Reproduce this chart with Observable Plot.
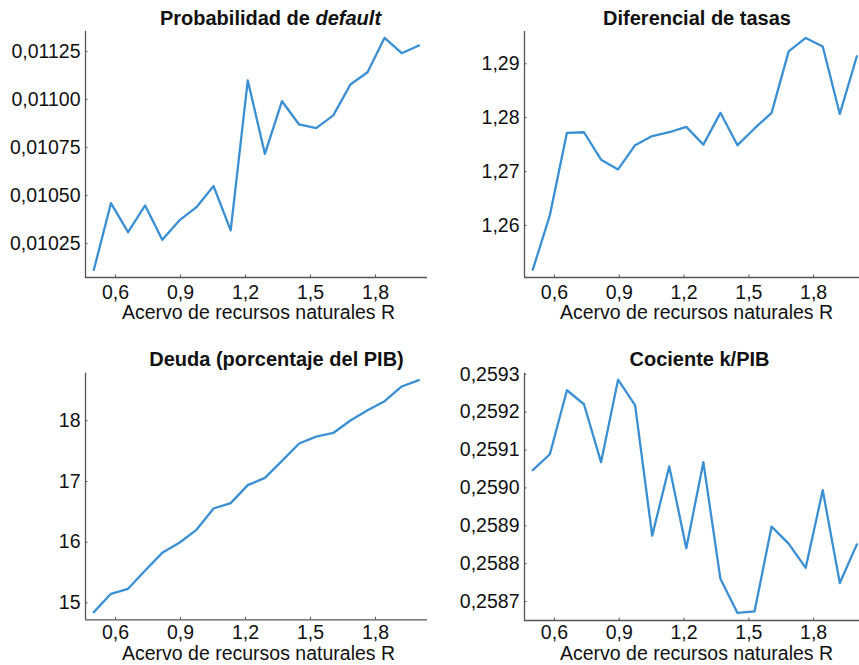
<!DOCTYPE html>
<html>
<head>
<meta charset="utf-8">
<script src="https://cdn.jsdelivr.net/npm/d3@7"></script>
<script src="https://cdn.jsdelivr.net/npm/@observablehq/plot@0.6"></script>
<style>
  html, body { margin: 0; padding: 0; background: #fff; }
  #fig {
    position: relative; width: 859px; height: 665px; overflow: hidden;
    font-family: "Liberation Sans", Arial, Helvetica, sans-serif;
  }
  #fig svg { position: absolute; overflow: visible; }
</style>
</head>
<body>
<div id="fig"></div>
<script>
// Natural resource stock R (shared x values for all four series)
const recursos = [0.5, 0.5789, 0.6579, 0.7368, 0.8158, 0.8947, 0.9737, 1.0526, 1.1316, 1.2105,
                  1.2895, 1.3684, 1.4474, 1.5263, 1.6053, 1.6842, 1.7632, 1.8421, 1.9211, 2.0];

// Series
const probDefault = [0.010113, 0.010460, 0.010309, 0.010448, 0.010269, 0.010370, 0.010439, 0.010549, 0.010318, 0.011099,
                     0.010717, 0.010991, 0.010870, 0.010851, 0.010917, 0.011078, 0.011142, 0.011321, 0.011241, 0.011281];
const diferencial = [1.2518, 1.2619, 1.2772, 1.2773, 1.2722, 1.2704, 1.2749, 1.2766, 1.2773, 1.2783,
                     1.2750, 1.2809, 1.2749, 1.2780, 1.2809, 1.2923, 1.2948, 1.2932, 1.2807, 1.2914];
const deuda = [14.846, 15.148, 15.231, 15.533, 15.824, 15.990, 16.203, 16.555, 16.643, 16.940,
               17.060, 17.340, 17.626, 17.740, 17.800, 18.005, 18.176, 18.324, 18.566, 18.670];
const cociente = [0.259047, 0.259089, 0.259258, 0.259221, 0.259068, 0.259286, 0.259218, 0.258874, 0.259057, 0.258841,
                  0.259068, 0.258760, 0.258670, 0.258674, 0.258898, 0.258853, 0.258789, 0.258994, 0.258749, 0.258851];

// Tick values
const xTicks = [0.6, 0.9, 1.2, 1.5, 1.8];
const probTicks = [0.01025, 0.01050, 0.01075, 0.01100, 0.01125];
const difTicks = [1.26, 1.27, 1.28, 1.29];
const deudaTicks = [15, 16, 17, 18];
const cocienteTicks = [0.2587, 0.2588, 0.2589, 0.2590, 0.2591, 0.2592, 0.2593];

// Labels
const xLabel = "Acervo de recursos naturales R";
const titles = [
  [["Probabilidad de ", "normal"], ["default", "italic"]],
  [["Diferencial de tasas", "normal"]],
  [["Deuda (porcentaje del PIB)", "normal"]],
  [["Cociente k/PIB", "normal"]]
];

// Spanish number formatting (decimal comma)
const es = d3.formatLocale({decimal: ",", thousands: ".", grouping: [3], currency: ["", " €"]});

const FONT = "19.5px";
const TITLE_FONT = "20px";
const LINE = "#3b8fd3";
const AXIS = "#555";
const xDomain = [0.4615, 2.04];

// Panel layout
const panels = [
  {values: probDefault, ticks: probTicks, fmt: ".5f", yDomain: [0.010073, 0.011354],
   left: 0, top: 0, width: 430, ml: 85, mt: 31, mb: 53, pad: 7.5,
   titleX: 270.5, titleY: 25, labelX: 258.5, labelY: 319.3},
  {values: diferencial, ticks: difTicks, fmt: ".2f", yDomain: [1.25035, 1.29599],
   left: 430, top: 0, width: 438, ml: 94, mt: 31, mb: 53, pad: 7.5,
   titleX: 697, titleY: 25, labelX: 696.5, labelY: 319},
  {values: deuda, ticks: deudaTicks, fmt: "d", yDomain: [14.72, 18.785],
   left: 0, top: 335, width: 430, ml: 85, mt: 37.7, mb: 45.7, pad: 5.3,
   titleX: 276.5, titleY: 365.7, labelX: 258.5, labelY: 660},
  {values: cociente, ticks: cocienteTicks, fmt: ".4f", yDomain: [0.25865, 0.259303],
   left: 430, top: 335, width: 438, ml: 94, mt: 37.7, mb: 45, pad: 4.6,
   titleX: 699.5, titleY: 365.7, labelX: 696.5, labelY: 660}
];

const fig = document.getElementById("fig");

panels.forEach((p, i) => {
  const data = recursos.map((r, j) => ({r, v: p.values[j]}));
  const chart = Plot.plot({
    width: p.width,
    height: 330,
    marginLeft: p.ml,
    marginRight: 3,
    marginTop: p.mt,
    marginBottom: p.mb,
    style: {fontSize: FONT, fontFamily: '"Liberation Sans", Arial, Helvetica, sans-serif', color: "#111", background: "transparent"},
    x: {domain: xDomain},
    y: {domain: p.yDomain},
    marks: [
      Plot.ruleX([xDomain[0]], {stroke: AXIS, strokeWidth: 1.3}),
      Plot.ruleY([p.yDomain[0]], {stroke: AXIS, strokeWidth: 1.3}),
      // small inward ticks
      Plot.axisX({ticks: xTicks, tickSize: -2.5, fill: "none", stroke: AXIS, label: null}),
      Plot.axisY({ticks: p.ticks, tickSize: -2.5, fill: "none", stroke: AXIS, label: null}),
      // tick labels
      Plot.axisX({ticks: xTicks, tickSize: 0, tickPadding: p.pad, tickFormat: es.format(".1f"), label: null}),
      Plot.axisY({ticks: p.ticks, tickSize: 0, tickPadding: 5, tickFormat: es.format(p.fmt), label: null}),
      Plot.line(data, {x: "r", y: "v", stroke: LINE, strokeWidth: 2.3, strokeLinejoin: "round"})
    ]
  });
  chart.style.left = p.left + "px";
  chart.style.top = p.top + "px";

  const svg = d3.select(chart);
  // panel title
  const t = svg.append("text")
    .attr("x", p.titleX - p.left)
    .attr("y", p.titleY - p.top)
    .attr("text-anchor", "middle")
    .attr("font-weight", "bold")
    .attr("font-size", TITLE_FONT)
    .attr("fill", "#111");
  titles[i].forEach(([s, style]) => t.append("tspan").attr("font-style", style).text(s));
  // x-axis label
  svg.append("text")
    .attr("x", p.labelX - p.left)
    .attr("y", p.labelY - p.top)
    .attr("text-anchor", "middle")
    .attr("font-size", FONT)
    .attr("fill", "#111")
    .text(xLabel);

  fig.appendChild(chart);
});
</script>
</body>
</html>
